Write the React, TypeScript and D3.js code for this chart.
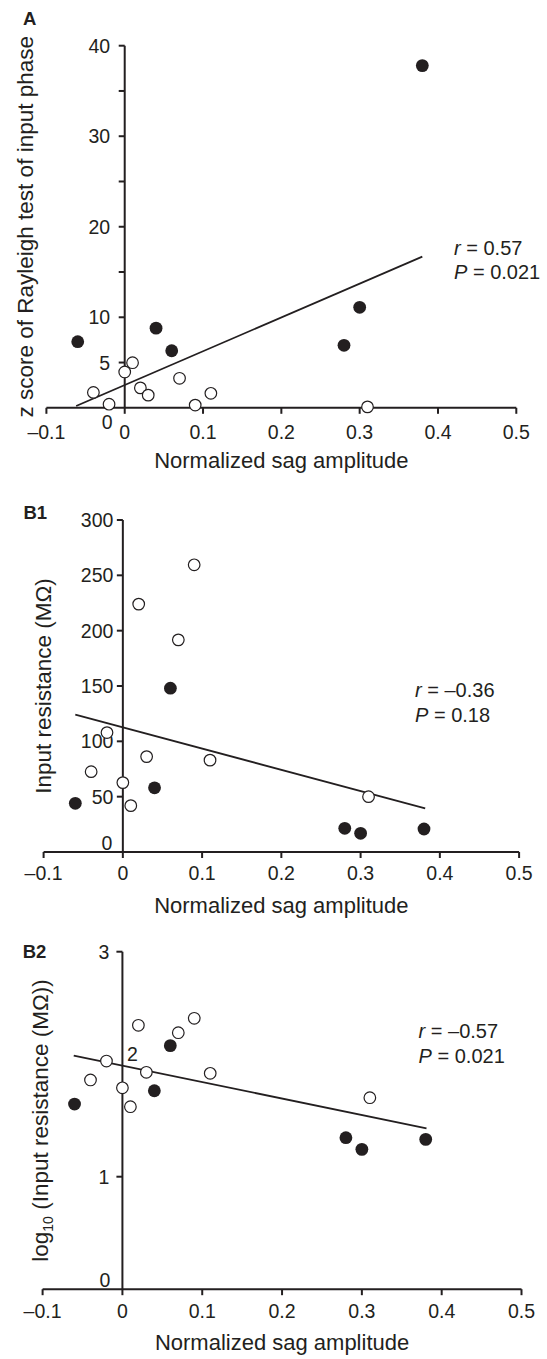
import React from 'react';
import * as d3 from 'd3';

// normalized sag amplitude (x) for the two groups of cells
const sagOpen = [-0.04, -0.02, 0.0, 0.01, 0.02, 0.03, 0.07, 0.09, 0.11, 0.31];
const sagFilled = [-0.06, 0.04, 0.06, 0.28, 0.3, 0.38];

// A: z score of Rayleigh test
const zOpen = [1.7, 0.4, 3.96, 4.98, 2.2, 1.4, 3.26, 0.3, 1.6, 0.1];
const zFilled = [7.3, 8.8, 6.3, 6.9, 11.1, 37.8];

// B1: input resistance (MOhm)
const rinOpen = [72.6, 107.9, 62.7, 41.9, 224, 86.2, 191.7, 259.5, 83, 50];
const rinFilled = [44, 58, 148, 21.4, 16.9, 20.8];

// B2: log10 input resistance
const logRinOpen = [1.86, 2.028, 1.79, 1.622, 2.346, 1.928, 2.28, 2.408, 1.919, 1.702];
const logRinFilled = [1.646, 1.764, 2.165, 1.347, 1.243, 1.332];

// regression line end points
const fitAx = [-0.062, 0.38];
const fitAy = [0.2, 16.7];
const fitB1x = [-0.06, 0.3815];
const fitB1y = [124.1, 39.5];
const fitB2x = [-0.061, 0.381];
const fitB2y = [2.076, 1.43];

const xTicks = [-0.1, 0, 0.1, 0.2, 0.3, 0.4, 0.5];
const xTickLabels = ['\u20130.1', '0', '0.1', '0.2', '0.3', '0.4', '0.5'];
const yTicksA = [5, 10, 20, 30, 40];
const yMinorA = [15, 25, 35];
const yTicksB1 = [50, 100, 150, 200, 250, 300];
const yTicksB2 = [1, 3];

const INK = '#231f20';
const FONT = '"Liberation Sans", Arial, Helvetica, sans-serif';

type PanelProps = {
  label: string;
  xRange: [number, number];
  yRange: [number, number];
  yDomain: [number, number];
  yTicks: number[];
  yMinor?: number[];
  yOpen: number[];
  yFilled: number[];
  fitX: number[];
  fitY: number[];
  labelGap: number;
  xLabelY: number;
  xTitleY: number;
  yTitleX: number;
  yTitle: React.ReactNode;
  labelPos: [number, number];
  annotPos: [number, number];
  annotGap: number;
  rText: string;
  pText: string;
  extraLabels: { text: string; x: number; y: number; anchor: string }[];
};

function Panel(p: PanelProps) {
  const x = d3.scaleLinear().domain([-0.1, 0.5]).range(p.xRange);
  const y = d3.scaleLinear().domain(p.yDomain).range(p.yRange);
  const x0 = x(0);
  const y0 = y(0);
  const line = d3.line<number>().x((d) => x(d)).y((_, i) => y(p.fitY[i]));
  const yMid = (p.yRange[0] + p.yRange[1]) / 2;

  return (
    <g fontFamily={FONT} fill={INK}>
      <text x={p.labelPos[0]} y={p.labelPos[1]} fontSize={18.5} fontWeight="bold">{p.label}</text>

      {/* x axis */}
      <line x1={p.xRange[0]} x2={p.xRange[1]} y1={y0} y2={y0} stroke={INK} strokeWidth={2} />
      {xTicks.map((t, i) => (
        <g key={'xt' + i}>
          <line x1={x(t)} x2={x(t)} y1={y0} y2={y0 + 6} stroke={INK} strokeWidth={2} />
          <text x={x(t)} y={p.xLabelY} textAnchor="middle" dominantBaseline="central" fontSize={19.5}>
            {xTickLabels[i]}
          </text>
        </g>
      ))}
      <text x={(p.xRange[0] + p.xRange[1]) / 2} y={p.xTitleY} textAnchor="middle" fontSize={22}>
        Normalized sag amplitude
      </text>

      {/* y axis */}
      <line x1={x0} x2={x0} y1={p.yRange[1]} y2={y0} stroke={INK} strokeWidth={2} />
      {p.yTicks.map((t) => (
        <g key={'yt' + t}>
          <line x1={x0 - 6} x2={x0} y1={y(t)} y2={y(t)} stroke={INK} strokeWidth={2} />
          <text x={x0 - p.labelGap} y={y(t)} textAnchor="end" dominantBaseline="central" fontSize={19.5}>
            {t}
          </text>
        </g>
      ))}
      {(p.yMinor || []).map((t) => (
        <line key={'ym' + t} x1={x0 - 6} x2={x0} y1={y(t)} y2={y(t)} stroke={INK} strokeWidth={2} />
      ))}
      {p.extraLabels.map((l, i) => (
        <text key={'el' + i} x={x0 + l.x} y={y0 + l.y} textAnchor={l.anchor} dominantBaseline="central" fontSize={19.5}>
          {l.text}
        </text>
      ))}
      <text transform={`translate(${p.yTitleX},${yMid}) rotate(-90)`} textAnchor="middle" fontSize={22.5}>
        {p.yTitle}
      </text>

      {/* regression line */}
      <path d={line(p.fitX) || ''} fill="none" stroke={INK} strokeWidth={1.8} />

      {/* points */}
      {sagOpen.map((s, i) => (
        <circle key={'o' + i} cx={x(s)} cy={y(p.yOpen[i])} r={5.8} fill="#fff" stroke={INK} strokeWidth={1.2} />
      ))}
      {sagFilled.map((s, i) => (
        <circle key={'f' + i} cx={x(s)} cy={y(p.yFilled[i])} r={6.4} fill={INK} />
      ))}

      <text x={p.annotPos[0]} y={p.annotPos[1]} fontSize={20}>
        <tspan fontStyle="italic">r</tspan> = {p.rText}
      </text>
      <text x={p.annotPos[0]} y={p.annotPos[1] + p.annotGap} fontSize={20}>
        <tspan fontStyle="italic">P</tspan> = {p.pText}
      </text>
    </g>
  );
}

export default function App() {
  return (
    <svg width={547} height={1359} style={{ position: 'absolute', left: 0, top: 0, background: '#fff' }}>
      <Panel
        label="A"
        xRange={[46.4, 516.3]}
        yRange={[407.8, 45.7]}
        yDomain={[0, 40]}
        yTicks={yTicksA}
        yMinor={yMinorA}
        yOpen={zOpen}
        yFilled={zFilled}
        fitX={fitAx}
        fitY={fitAy}
        labelGap={14.5}
        xLabelY={432}
        xTitleY={468}
        yTitleX={33}
        yTitle="z score of Rayleigh test of input phase"
        labelPos={[23, 25]}
        annotPos={[454, 255]}
        annotGap={24.3}
        rText="0.57"
        pText="0.021"
        extraLabels={[{ text: '0', x: -17.5, y: 14, anchor: 'middle' }]}
      />
      <Panel
        label="B1"
        xRange={[43.6, 519.1]}
        yRange={[852, 520]}
        yDomain={[0, 300]}
        yTicks={yTicksB1}
        yOpen={rinOpen}
        yFilled={rinFilled}
        fitX={fitB1x}
        fitY={fitB1y}
        labelGap={9.5}
        xLabelY={872.5}
        xTitleY={912.7}
        yTitleX={51}
        yTitle="Input resistance (MΩ)"
        labelPos={[23.5, 519]}
        annotPos={[415, 697.3]}
        annotGap={24.4}
        rText={'\u20130.36'}
        pText="0.18"
        extraLabels={[{ text: '0', x: -10.5, y: -9.5, anchor: 'end' }]}
      />
      <Panel
        label="B2"
        xRange={[42.6, 521.5]}
        yRange={[1289.2, 951.7]}
        yDomain={[0, 3]}
        yTicks={yTicksB2}
        yOpen={logRinOpen}
        yFilled={logRinFilled}
        fitX={fitB2x}
        fitY={fitB2y}
        labelGap={13}
        xLabelY={1310.7}
        xTitleY={1350}
        yTitleX={48}
        yTitle={
          <>
            log<tspan fontSize={14} dy={5}>10</tspan>
            <tspan dy={-5}> (Input resistance (MΩ))</tspan>
          </>
        }
        labelPos={[22.7, 958]}
        annotPos={[418.6, 1038.3]}
        annotGap={25}
        rText={'\u20130.57'}
        pText="0.021"
        extraLabels={[
          { text: '0', x: -12, y: -9.5, anchor: 'end' },
          { text: '2', x: 10, y: -235.7, anchor: 'middle' },
        ]}
      />
    </svg>
  );
}
